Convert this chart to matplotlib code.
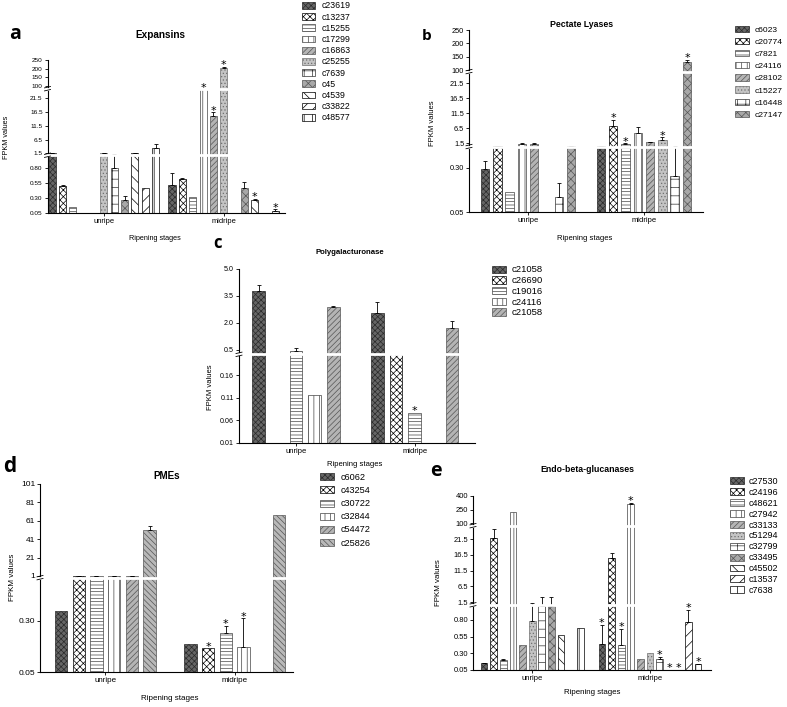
import numpy as np
import matplotlib
matplotlib.use("Agg")
import matplotlib.pyplot as plt

plt.rcParams['font.family'] = ['Liberation Sans', 'DejaVu Sans']
plt.rcParams['hatch.linewidth'] = 0.5
plt.rcParams['axes.linewidth'] = 0.8

nan = np.nan
groups = ['unripe', 'midripe']

# ---------------- Panel a : Expansins ----------------
a_series = ['c23619', 'c13237', 'c15255', 'c17299', 'c16863', 'c25255',
            'c7639', 'c45', 'c4539', 'c33822', 'c48577']
a_unripe = [1.5, 0.51, 0.15, nan, nan, 1.45, 0.80, 0.28, 1.7, 0.48, 3.4]
a_unripe_err = [0.1, 0.01, 0, 0, 0, 0.05, 0.45, 0.06, 0.05, 0, 1.6]
a_midripe = [0.52, 0.63, 0.33, 55, 14.9, 207, nan, 0.48, 0.27, nan, 0.095]
a_midripe_err = [0.21, 0.01, 0, 0, 1.6, 5, 0, 0.1, 0.02, 0, 0.02]
a_unripe_star = [0] * 11
a_midripe_star = [0, 0, 0, 1, 1, 1, 0, 0, 1, 0, 1]
a_ticks = [0.05, 0.30, 0.55, 0.80, 1.5, 6.5, 11.5, 16.5, 21.5, 100, 150, 200, 250]
a_ticklabels = ['0.05', '0.30', '0.55', '0.80', '1.5', '6.5', '11.5', '16.5', '21.5',
                '100', '150', '200', '250']
a_seg_values = [0.05, 1.0, 1.2, 24, 100, 250]
a_seg_pos = [0, 0.3725, 0.3867, 0.7965, 0.8322, 1.0]

# ---------------- Panel b : Pectate Lyases ----------------
b_series = ['c6023', 'c20774', 'c7821', 'c24116', 'c28102', 'c15227', 'c16448', 'c27147']
b_unripe = [0.29, 1.05, 0.166, 1.4, 1.4, nan, 0.134, 1.05]
b_unripe_err = [0.045, 0.02, 0, 0.1, 0.1, 0, 0.08, 0.02]
b_midripe = [1.05, 7.3, 1.33, 4.8, 1.8, 2.5, 0.255, 131]
b_midripe_err = [0.02, 2.0, 0.15, 2.0, 0.2, 1.0, 0.8, 7.5]
b_unripe_star = [0] * 8
b_midripe_star = [0, 1, 1, 0, 0, 1, 0, 1]
b_ticks = [0.05, 0.30, 1.5, 6.5, 11.5, 16.5, 21.5, 100, 150, 200, 250]
b_ticklabels = ['0.05', '0.30', '1.5', '6.5', '11.5', '16.5', '21.5', '100', '150', '200', '250']
b_seg_values = [0.05, 0.40, 1.5, 25, 100, 250]
b_seg_pos = [0, 0.343, 0.3784, 0.765, 0.7788, 1.0]

# ---------------- Panel c : Polygalacturonase ----------------
c_series = ['c21058', 'c26690', 'c19016', 'c24116', 'c21058']
c_unripe = [3.79, nan, 0.44, 0.116, 2.9]
c_unripe_err = [0.32, 0, 0.13, 0, 0.02]
c_midripe = [2.56, 0.32, 0.077, nan, 1.72]
c_midripe_err = [0.61, 0, 0, 0, 0.37]
c_unripe_star = [0] * 5
c_midripe_star = [0, 0, 1, 0, 0]
c_ticks = [0.01, 0.06, 0.11, 0.16, 0.5, 2.0, 3.5, 5.0]
c_ticklabels = ['0.01', '0.06', '0.11', '0.16', '0.5', '2.0', '3.5', '5.0']
c_seg_values = [0.01, 0.20, 0.40, 5.0]
c_seg_pos = [0, 0.4923, 0.5251, 1.0]

# ---------------- Panel d : PMEs ----------------
d_series = ['c6062', 'c43254', 'c30722', 'c32844', 'c54472', 'c25826']
d_unripe = [0.348, 1.0, 1.0, 1.0, 1.0, 50.5]
d_unripe_err = [0, 0.4, 0.4, 0.4, 0.3, 4.3]
d_midripe = [0.185, 0.166, 0.239, 0.174, nan, 66.8]
d_midripe_err = [0, 0, 0.035, 0.137, 0, 0]
d_unripe_star = [0] * 6
d_midripe_star = [0, 1, 1, 1, 0, 0]
d_ticks = [0.05, 0.30, 1, 21, 41, 61, 81, 101]
d_ticklabels = ['0.05', '0.30', '1', '21', '41', '61', '81', '101']
d_seg_values = [0.05, 0.50, 1.0, 101]
d_seg_pos = [0, 0.4938, 0.5115, 1.0]

# ---------------- Panel e : Endo-beta-glucanases ----------------
e_series = ['c27530', 'c24196', 'c48621', 'c27942', 'c33133', 'c51294',
            'c32799', 'c33495', 'c45502', 'c13537', 'c7638']
e_unripe = [0.15, 21.8, 0.20, 218, 0.425, 0.785, 1.05, 1.05, 0.58, nan, 0.685]
e_unripe_err = [0.01, 2.9, 0.01, 0, 0, 0.45, 1.94, 1.94, 0, 0, 0]
e_midripe = [0.435, 15.6, 0.42, 315, 0.215, 0.30, 0.21, nan, nan, 0.765, 0.135]
e_midripe_err = [0.29, 1.6, 0.25, 10, 0, 0, 0.04, 0, 0, 0.19, 0.01]
e_unripe_star = [0] * 11
e_midripe_star = [1, 0, 1, 1, 0, 0, 1, 1, 1, 1, 1]
e_ticks = [0.05, 0.30, 0.55, 0.80, 1.5, 6.5, 11.5, 16.5, 21.5, 100, 250, 400]
e_ticklabels = ['0.05', '0.30', '0.55', '0.80', '1.5', '6.5', '11.5', '16.5', '21.5',
                '100', '250', '400']
e_seg_values = [0.05, 1.0, 1.2, 25, 100, 400]
e_seg_pos = [0, 0.3640, 0.3854, 0.8140, 0.8448, 1.0]

# ---------------- styles (GraphPad-like fill patterns) ----------------
STYLES = [
    dict(fc='#666666', ec='#2a2a2a', hatch='xxxxxx'),   # 0 dark
    dict(fc='white', ec='black', hatch='xxxxx'),        # 1 checker
    dict(fc='white', ec='#444444', hatch='-----'),      # 2 horizontal
    dict(fc='white', ec='#444444', hatch='|||'),        # 3 vertical
    dict(fc='#b4b4b4', ec='#555555', hatch='//////'),   # 4 grey diagonal
    dict(fc='#c4c4c4', ec='#707070', hatch='.....'),    # 5 grey stipple
    dict(fc='white', ec='#333333', hatch='++'),         # 6 grid
    dict(fc='#a8a8a8', ec='#555555', hatch='xxxx'),     # 7 grey cross
    dict(fc='white', ec='black', hatch='\\\\\\'),       # 8 backslash
    dict(fc='white', ec='black', hatch='///'),          # 9 slash
    dict(fc='white', ec='black', hatch='||'),           # 10 thick vertical
    dict(fc='#b8b8b8', ec='#555555', hatch='\\\\\\\\\\\\'),  # 11 grey backslash
]

W, H = 787, 707
fig = plt.figure(figsize=(W / 100, H / 100), dpi=100)


def draw_panel(letter, title, series, vals, errs, stars, seg_v, seg_p, breaks,
               ticks, ticklabels, styles, L):
    l, t, r, b = L['box']
    axw, axh = r - l, b - t
    ax = fig.add_axes([l / W, 1 - b / H, axw / W, axh / H])
    fwd = lambda v: np.interp(v, seg_v, seg_p)
    inv = lambda p: np.interp(p, seg_p, seg_v)
    ax.set_yscale('function', functions=(fwd, inv))
    base = seg_v[0]
    n = len(series)
    stride = n + L['gap']
    for i, name in enumerate(series):
        xs = np.array([g * stride + i for g in range(2)], float)
        v = np.array([vals[g][i] for g in range(2)], float)
        e = np.array([errs[g][i] for g in range(2)], float)
        st = STYLES[styles[i]]
        ax.bar(xs, v - base, bottom=base, width=L['width'], color=st['fc'],
               edgecolor=st['ec'], hatch=st['hatch'], linewidth=0.5, label=name, zorder=2)
        m = (~np.isnan(v)) & (e > 0)
        if m.any():
            ax.errorbar(xs[m], v[m], yerr=[np.zeros(m.sum()), e[m]], fmt='none',
                        ecolor='black', elinewidth=0.6, capsize=1.6, capthick=0.6, zorder=3)
        for g in range(2):
            if stars[g][i]:
                top = (base if np.isnan(v[g]) else v[g]) + (0 if np.isnan(e[g]) else e[g])
                ax.annotate('*', (xs[g], top), xytext=(0, -2.5), textcoords='offset points',
                            ha='center', va='bottom', fontsize=8, family='DejaVu Sans', zorder=7)
    ax.set_ylim(base, seg_v[-1])
    ax.set_xlim(*L['xlim'])
    ax.set_yticks(ticks, ticklabels)
    ax.set_xticks([(n - 1) / 2, stride + (n - 1) / 2], groups)
    ax.tick_params(axis='y', length=2.5, width=0.6, labelsize=L['yfs'], pad=1)
    ax.tick_params(axis='x', length=2, width=0.6, labelsize=L['xfs'], pad=1.5)
    ax.minorticks_off()
    for s in ('top', 'right'):
        ax.spines[s].set_visible(False)
    # axis breaks
    for (i0, i1) in breaks:
        yb = (seg_p[i0] + seg_p[i1]) / 2
        ax.plot([-1.2 / axw, 1], [yb, yb], transform=ax.transAxes, color='white', lw=2.0,
                zorder=5, clip_on=False, solid_capstyle='butt')
        dx, dy, sl = 3 / axw, 1.5 / axh, 0.7 / axh
        for s in (-1, 1):
            ax.plot([-dx, dx], [yb + s * dy - sl, yb + s * dy + sl], transform=ax.transAxes,
                    color='black', lw=0.6, zorder=6, clip_on=False)
    ax.set_ylabel('FPKM values', fontsize=L['lfs'])
    ax.yaxis.set_label_coords((L['ylab'][0] - l) / axw, (b - L['ylab'][1]) / axh)
    ax.set_xlabel('Ripening stages', fontsize=L['lfs'])
    ax.xaxis.set_label_coords((L['xlab'][0] - l) / axw, (b - L['xlab'][1]) / axh)
    ax.xaxis.label.set_va('center')
    ax.yaxis.label.set_va('center')
    ax.text((L['title'][0] - l) / axw, (b - L['title'][1]) / axh, title,
            transform=ax.transAxes, ha='center', va='center', fontsize=L['tfs'],
            fontweight='bold')
    fig.text(L['letter'][0] / W, 1 - L['letter'][1] / H, letter, ha='center', va='center',
             fontsize=L['letfs'], fontweight='bold', family=['Open Sans', 'DejaVu Sans'])
    h, lb = ax.get_legend_handles_labels()
    fs = L['legfs']
    ax.legend(h, lb, loc='upper left', bbox_to_anchor=(L['leg'][0] / W, 1 - L['leg'][1] / H),
              bbox_transform=fig.transFigure, frameon=False, fontsize=fs, borderpad=0,
              borderaxespad=0, handlelength=L['hl'], handleheight=L['hh'],
              handletextpad=L['htp'], labelspacing=L['ls'])
    return ax


draw_panel('a', 'Expansins', a_series, [a_unripe, a_midripe], [a_unripe_err, a_midripe_err],
           [a_unripe_star, a_midripe_star], a_seg_values, a_seg_pos, [(1, 2), (3, 4)],
           a_ticks, a_ticklabels, list(range(11)),
           dict(box=(47.5, 60.3, 285, 213.3), gap=0.58, width=0.68, xlim=(-0.45, 22.5),
                yfs=4.6, xfs=5.4, lfs=5.2, tfs=7.2, letfs=14, legfs=6.3,
                ylab=(7, 137), xlab=(155, 239), title=(160, 35), letter=(15, 34),
                leg=(302, 1.5), hl=1.5, hh=0.8, htp=0.7, ls=0.25))

draw_panel('b', 'Pectate Lyases', b_series, [b_unripe, b_midripe], [b_unripe_err, b_midripe_err],
           [b_unripe_star, b_midripe_star], b_seg_values, b_seg_pos, [(1, 2), (3, 4)],
           b_ticks, b_ticklabels, list(range(8)),
           dict(box=(469, 30, 703, 212.3), gap=1.4, width=0.68, xlim=(-1.3, 17.7),
                yfs=5.3, xfs=5.5, lfs=5.5, tfs=6.3, letfs=11, legfs=6.1,
                ylab=(433, 123), xlab=(585, 238), title=(582, 24), letter=(427, 36),
                leg=(735, 25.5), hl=1.6, hh=0.8, htp=0.7, ls=0.47))

draw_panel('c', 'Polygalacturonase', c_series, [c_unripe, c_midripe], [c_unripe_err, c_midripe_err],
           [c_unripe_star, c_midripe_star], c_seg_values, c_seg_pos, [(1, 2)],
           c_ticks, c_ticklabels, list(range(5)),
           dict(box=(239, 269, 475, 442.7), gap=1.34, width=0.68, xlim=(-1.05, 11.57),
                yfs=5.1, xfs=5.5, lfs=5.5, tfs=5.6, letfs=12, legfs=6.8,
                ylab=(210, 387), xlab=(355, 465), title=(350, 253), letter=(218, 243),
                leg=(492, 265.5), hl=1.5, hh=0.8, htp=0.6, ls=0.18))

draw_panel('d', 'PMEs', d_series, [d_unripe, d_midripe], [d_unripe_err, d_midripe_err],
           [d_unripe_star, d_midripe_star], d_seg_values, d_seg_pos, [(1, 2)],
           d_ticks, d_ticklabels, [0, 1, 2, 3, 4, 11],
           dict(box=(40, 484, 293, 672.3), gap=1.3, width=0.7, xlim=(-1.19, 13.1),
                yfs=6.0, xfs=5.8, lfs=5.8, tfs=7.1, letfs=15, legfs=6.6,
                ylab=(13, 577), xlab=(170, 698), title=(167, 476), letter=(10, 467),
                leg=(320, 473), hl=1.5, hh=0.8, htp=0.7, ls=0.45))

draw_panel('e', 'Endo-beta-glucanases', e_series, [e_unripe, e_midripe], [e_unripe_err, e_midripe_err],
           [e_unripe_star, e_midripe_star], e_seg_values, e_seg_pos, [(1, 2), (3, 4)],
           e_ticks, e_ticklabels, list(range(11)),
           dict(box=(473, 496, 711, 670), gap=1.26, width=0.7, xlim=(-1.15, 23.6),
                yfs=5.4, xfs=5.5, lfs=5.7, tfs=6.3, letfs=14, legfs=6.5,
                ylab=(439, 583), xlab=(592, 693), title=(587, 469), letter=(436, 471),
                leg=(730, 477), hl=1.5, hh=0.8, htp=0.6, ls=0.21))

fig.savefig('out.png', dpi=100)
